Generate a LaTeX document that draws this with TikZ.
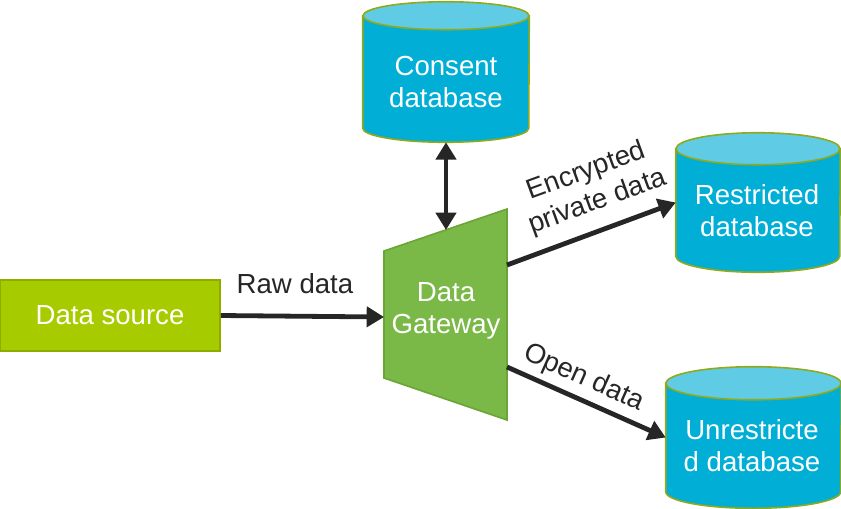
\documentclass[tikz,border=0pt]{standalone}
\usepackage{fontspec}
\setmainfont{Liberation Sans}
\usetikzlibrary{arrows.meta}
\definecolor{srcgreen}{HTML}{A6CC00}
\definecolor{srcedge}{HTML}{8CAD00}
\definecolor{gwgreen}{HTML}{7AB947}
\definecolor{gwedge}{HTML}{6AA535}
\definecolor{dbbody}{HTML}{00AED6}
\definecolor{dbtop}{HTML}{60CBE4}
\definecolor{dbedge}{HTML}{8FAA1C}
\definecolor{arrowgray}{HTML}{262626}
\tikzset{
	label/.style = {align=center, inner sep=0pt, font=\fontsize{20.7}{24}\selectfont},
	whitetext/.style = {label, white},
	darktext/.style = {label, black!85},
	source/.style = {draw=srcedge, fill=srcgreen, line width=1.2pt, minimum width=165pt, minimum height=53pt, inner sep=0pt},
	dbbox/.style = {rectangle, inner sep=0pt},
	dbshape/.style = {draw=dbedge, line width=1.2pt},
	flow/.style = {draw=arrowgray, line width=3.6pt, -{Triangle[length=13pt,width=15pt]}},
	twoway/.style = {flow, {Triangle[length=13pt,width=15pt]}-{Triangle[length=13pt,width=15pt]}}
}
% cylinder round the body box #1, ends with x radius #2 and y radius #3
\newcommand{\dbcylinder}[3]{
	\filldraw [dbshape, fill=dbbody] (#1.north west) -- (#1.south west)
		arc [start angle=180, end angle=360, x radius=#2, y radius=#3] -- (#1.north east) -- cycle;
	\filldraw [dbshape, fill=dbtop] (#1.north) ellipse [x radius=#2, y radius=#3];
}
\begin{document}
\begin{tikzpicture}[x=0.75pt, y=-0.75pt]
		\useasboundingbox (0,0) rectangle (841,508);
		% source and gateway
		\node [source] (src) at (110,315.5) {};
		\node [whitetext] (srctext) at (110,315) {Data source};
		\filldraw [draw=gwedge, fill=gwgreen, line width=1.2pt]
			(384,251) -- (507,209) -- (507,420) -- (384,378) -- cycle;
		\coordinate (gwin) at (384,317);
		\coordinate (gwtop) at (446,230);
		\coordinate (gwup) at (507,265);
		\coordinate (gwdown) at (507,367);
		\node [whitetext] (gw) at (446,311) {Data\\Gateway};
		% databases
		\node [dbbox, minimum width=124.5pt, minimum height=84pt] (consent) at (446,72) {};
		\dbcylinder{consent}{62.25pt}{10.5pt}
		\node [whitetext] (consenttext) at (446,82) {Consent\\database};
		\node [dbbox, minimum width=123pt, minimum height=80.25pt] (restricted) at (758,202.5) {};
		\dbcylinder{restricted}{61.5pt}{12pt}
		\node [whitetext] (restrictedtext) at (757,211) {Restricted\\database};
		\node [dbbox, minimum width=131.25pt, minimum height=81pt] (open) at (753.5,437.5) {};
		\dbcylinder{open}{65.6pt}{12.4pt}
		\node [whitetext] (opentext) at (752,446) {Unrestricte\\d database};
		\coordinate (consentbase) at ([yshift=-10.5pt]consent.south);
		% connectors
		\draw [flow] (src.east) -- (gwin);
		\node [darktext] (rawlbl) at (295,284) {Raw data};
		\draw [twoway] (consentbase) -- (gwtop);
		\draw [flow] (gwup) -- (restricted.west);
		\draw [flow] (gwdown) -- (open.west);
		\node [darktext, rotate=20] (enclbl) at (592,187) {Encrypted\\private data};
		\node [darktext, rotate=-24] (openlbl) at (584,378) {Open data};
\end{tikzpicture}
\end{document}
